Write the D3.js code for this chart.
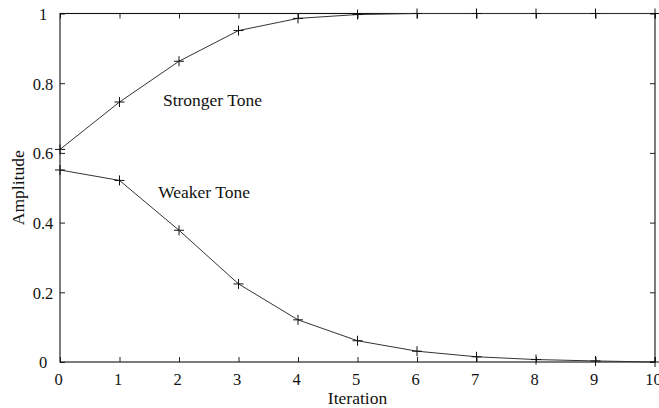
<!DOCTYPE html>
<html>
<head>
<meta charset="utf-8">
<script src="https://cdn.jsdelivr.net/npm/d3@7"></script>
<style>
  body { margin: 0; background: #fff; }
</style>
</head>
<body>
<svg id="chart" width="659" height="408"></svg>
<script>
var iterations = [0, 1, 2, 3, 4, 5, 6, 7, 8, 9, 10];
var strongerTone = [0.61, 0.746, 0.863, 0.951, 0.986, 0.997, 1, 1, 1, 1, 1];
var weakerTone = [0.551, 0.521, 0.378, 0.224, 0.121, 0.061, 0.031, 0.015, 0.007, 0.003, 0.0];
var xTicks = [0, 1, 2, 3, 4, 5, 6, 7, 8, 9, 10];
var yTicks = [0, 0.2, 0.4, 0.6, 0.8, 1];
var seriesLabels = ['Stronger Tone', 'Weaker Tone'];
// label anchor points in data units
var labelX = [1.73, 1.65];
var labelY = [0.735, 0.47];

var serif = "'Liberation Serif', 'Times New Roman', Times, 'DejaVu Serif', serif";

var width = 659, height = 408;
var margin = {top: 13.5, right: 4, bottom: 46, left: 60};
var w = width - margin.left - margin.right,
    h = height - margin.top - margin.bottom;

var svg = d3.select('#chart')
  .append('g')
  .attr('transform', 'translate(' + margin.left + ',' + margin.top + ')');

var x = d3.scaleLinear().domain([0, 10]).range([0, w]);
var y = d3.scaleLinear().domain([0, 1]).range([h, 0]);

// ticks on all four sides, pointing inward
var fmt = function(d) { return d3.format('~g')(d); };
var bottom = svg.append('g')
  .attr('transform', 'translate(0,' + h + ')')
  .call(d3.axisBottom(x).tickValues(xTicks).tickSizeInner(-5).tickSizeOuter(0).tickPadding(11).tickFormat(fmt));
var left = svg.append('g')
  .call(d3.axisLeft(y).tickValues(yTicks).tickSizeInner(-5).tickSizeOuter(0).tickPadding(7).tickFormat(fmt));
svg.append('g')
  .call(d3.axisTop(x).tickValues(xTicks).tickSizeInner(-5).tickSizeOuter(0).tickFormat(''));
svg.append('g')
  .attr('transform', 'translate(' + w + ',0)')
  .call(d3.axisRight(y).tickValues(yTicks).tickSizeInner(-5).tickSizeOuter(0).tickFormat(''));

svg.selectAll('.domain').remove();
svg.selectAll('.tick line').attr('stroke', '#222');

svg.append('rect')
  .attr('width', w)
  .attr('height', h)
  .attr('fill', 'none')
  .attr('stroke', '#111')
  .attr('stroke-width', 1.1);

var line = d3.line()
  .x(function(d, i) { return x(iterations[i]); })
  .y(function(d) { return y(d); });

[strongerTone, weakerTone].forEach(function(s, k) {
  svg.append('path')
    .datum(s)
    .attr('fill', 'none')
    .attr('stroke', '#333')
    .attr('stroke-width', 1)
    .attr('d', line);

  svg.selectAll('.mk' + k)
    .data(s)
    .enter().append('path')
    .attr('class', 'mk' + k)
    .attr('d', function(d, i) {
      var cx = x(iterations[i]), cy = y(d), r = 5;
      return 'M' + (cx - r) + ',' + cy + 'H' + (cx + r) + 'M' + cx + ',' + (cy - r) + 'V' + (cy + r);
    })
    .attr('stroke', '#111')
    .attr('stroke-width', 1);

  svg.append('text')
    .attr('x', x(labelX[k]))
    .attr('y', y(labelY[k]))
    .text(seriesLabels[k]);
});

// axis titles
svg.append('text')
  .attr('x', w / 2)
  .attr('y', h + 42)
  .attr('text-anchor', 'middle')
  .text('Iteration');

svg.append('text')
  .attr('transform', 'translate(' + (-36) + ',' + (h / 2) + ') rotate(-90)')
  .attr('text-anchor', 'middle')
  .text('Amplitude');

d3.selectAll('#chart text')
  .style('font-family', serif)
  .style('font-size', '17.5px')
  .style('fill', '#111');

// tick labels a bit smaller
bottom.selectAll('text')
  .attr('dx', '-2')
  .style('font-size', '16.5px');
left.selectAll('text')
  .attr('text-anchor', 'middle')
  .attr('x', -17)
  .attr('dy', '0.36em')
  .style('font-size', '16.5px');
</script>
</body>
</html>
